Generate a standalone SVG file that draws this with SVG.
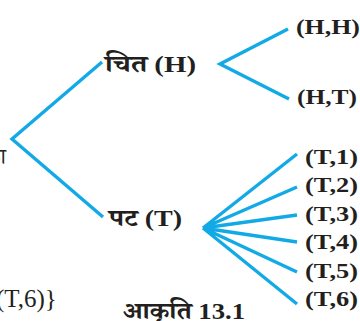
<svg xmlns="http://www.w3.org/2000/svg" width="360" height="321" viewBox="0 0 360 321">
<style>
.e{stroke:#12aae6;stroke-width:3.4;fill:none;stroke-linecap:butt}
.b{font-family:"Liberation Serif","Noto Serif Devanagari","Noto Sans Devanagari","Lohit Devanagari",serif;font-weight:bold;fill:#231f20}
.r{font-family:"Liberation Serif","Noto Serif Devanagari","Noto Sans Devanagari",serif;fill:#231f20}
</style>
<rect width="360" height="321" fill="#fff"/>
<g id="connectors">
<polyline class="e" points="102,62 12,139 103,217"/>
<polyline class="e" points="288,29 220,64 289,99"/>
<path class="e" d="M203,228 L297,154 M203,228 L297,187 M203,228 L297,215 M203,228 L297,242 M203,228 L297,272 M203,228 L297,304"/>
</g>
<g id="root"><text class="r" x="6" y="164" font-size="22" text-anchor="end">का</text></g>
<g id="H"><text class="b" x="105" y="72" font-size="24" textLength="91" lengthAdjust="spacingAndGlyphs">चित (H)</text></g>
<g id="T"><text class="b" x="109" y="226" font-size="24" textLength="73" lengthAdjust="spacingAndGlyphs">पट (T)</text></g>
<g id="HH"><text class="b" x="296" y="34" font-size="22" textLength="64" lengthAdjust="spacingAndGlyphs">(H,H)</text></g>
<g id="HT"><text class="b" x="297" y="104" font-size="22" textLength="60" lengthAdjust="spacingAndGlyphs">(H,T)</text></g>
<g id="T1"><text class="b" x="305" y="164" font-size="22" textLength="53" lengthAdjust="spacingAndGlyphs">(T,1)</text></g>
<g id="T2"><text class="b" x="305" y="192" font-size="22" textLength="53" lengthAdjust="spacingAndGlyphs">(T,2)</text></g>
<g id="T3"><text class="b" x="305" y="221" font-size="22" textLength="53" lengthAdjust="spacingAndGlyphs">(T,3)</text></g>
<g id="T4"><text class="b" x="305" y="249" font-size="22" textLength="53" lengthAdjust="spacingAndGlyphs">(T,4)</text></g>
<g id="T5"><text class="b" x="305" y="278" font-size="22" textLength="53" lengthAdjust="spacingAndGlyphs">(T,5)</text></g>
<g id="T6"><text class="b" x="305" y="306" font-size="22" textLength="53" lengthAdjust="spacingAndGlyphs">(T,6)</text></g>
<text class="r" x="-4" y="307" font-size="25">(T,6)}</text>
<text class="b" x="123" y="319" font-size="24" textLength="122" lengthAdjust="spacingAndGlyphs">आकृति 13.1</text>
</svg>
